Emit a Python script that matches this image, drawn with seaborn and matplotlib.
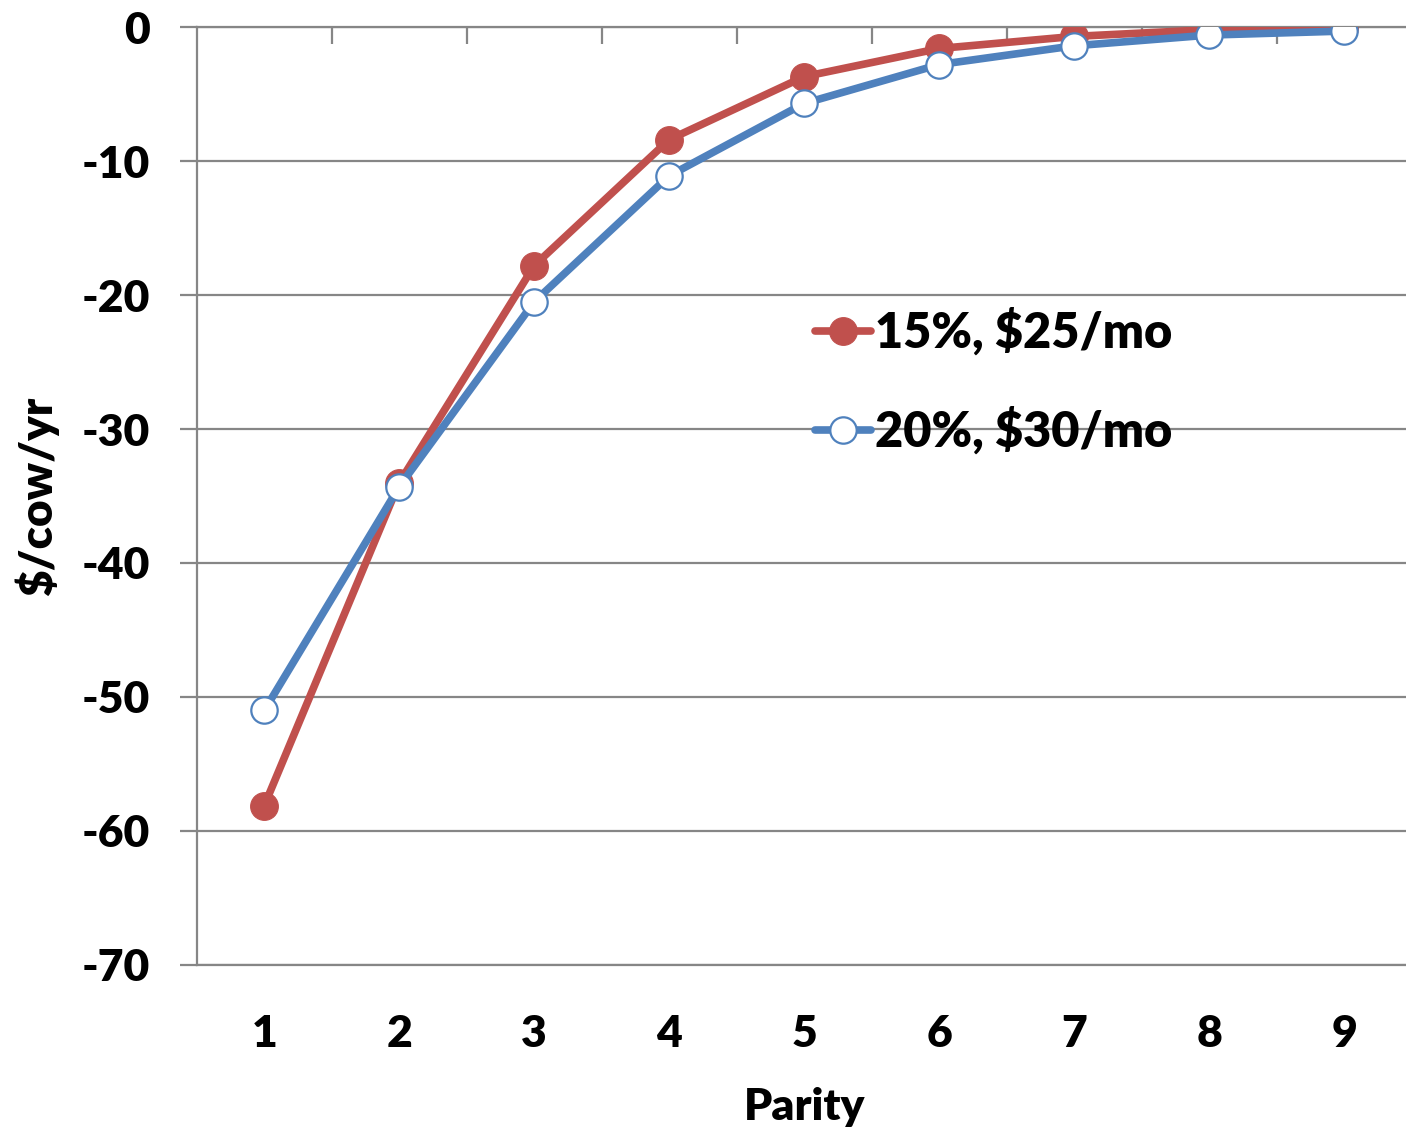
import matplotlib
matplotlib.use("Agg")
import matplotlib.pyplot as plt
import seaborn as sns
import pandas as pd

# Parity categories and the cost series ($/cow/yr)
parity = [1, 2, 3, 4, 5, 6, 7, 8, 9]
cost_15_25 = [-58.1, -34.0, -17.8, -8.4, -3.7, -1.6, -0.7, -0.2, -0.1]
cost_20_30 = [-51.0, -34.3, -20.5, -11.1, -5.7, -2.8, -1.4, -0.6, -0.3]
series_labels = ["15%, $25/mo", "20%, $30/mo"]
y_ticks = [0, -10, -20, -30, -40, -50, -60, -70]

RED = "#C0504D"
BLUE = "#4F81BD"
GRID = "#868686"

sns.set_theme(style="white")
plt.rcParams["font.family"] = ["Lato", "DejaVu Sans"]
plt.rcParams["font.weight"] = "heavy"
plt.rcParams["text.color"] = "black"
plt.rcParams["axes.labelcolor"] = "black"

fig = plt.figure(figsize=(14.06, 11.31), dpi=100)
ax = fig.add_axes([0.140, 0.1468, 0.864, 0.8293])

df = pd.DataFrame({"parity": parity, "a": cost_15_25, "b": cost_20_30})

sns.lineplot(data=df, x="parity", y="a", ax=ax, color=RED, linewidth=5.5,
             marker="o", markersize=20, markerfacecolor=RED,
             markeredgecolor=RED, label=series_labels[0], zorder=3)
sns.lineplot(data=df, x="parity", y="b", ax=ax, color=BLUE, linewidth=5.5,
             marker="o", markersize=19, markerfacecolor="white",
             markeredgecolor=BLUE, markeredgewidth=1.6,
             label=series_labels[1], zorder=4)

ax.set_xlim(0.5, 9.5)
ax.set_ylim(-70, 0)
ax.set_xticks(parity)
ax.set_xticklabels([str(p) for p in parity], fontweight="heavy")
ax.set_yticks(y_ticks)
ax.set_yticklabels([str(t) for t in y_ticks], fontweight="heavy")

# horizontal gridlines
ax.yaxis.grid(True, color=GRID, linewidth=1.6)
ax.xaxis.grid(False)
ax.set_axisbelow(True)

for side in ["left", "bottom", "top"]:
    ax.spines[side].set_color(GRID)
    ax.spines[side].set_linewidth(1.6)
ax.spines["right"].set_visible(False)

ax.tick_params(axis="x", length=0, pad=35, labelsize=32, labelcolor="black")
ax.tick_params(axis="y", length=12, width=1.6, color=GRID, pad=22,
               labelsize=32, labelcolor="black", left=True)

# category-boundary ticks hanging down from the zero line
top = ax.secondary_xaxis("top")
top.set_xticks([1.5 + i for i in range(8)])
top.set_xticklabels([])
top.tick_params(length=12, width=1.6, color=GRID, direction="in")
top.spines["top"].set_visible(False)

ax.set_xlabel("Parity", fontsize=32, fontweight="heavy", labelpad=24)
ax.set_ylabel("$/cow/yr", fontsize=33, fontweight="heavy", labelpad=16)

leg = ax.legend(loc="upper left", bbox_to_anchor=(0.493, 0.722), frameon=False,
                fontsize=35, handlelength=1.15, handletextpad=0.08,
                labelspacing=1.05, borderaxespad=0)
for t in leg.get_texts():
    t.set_fontweight("heavy")
    t.set_color("black")

fig.savefig("out.png", dpi=100)
